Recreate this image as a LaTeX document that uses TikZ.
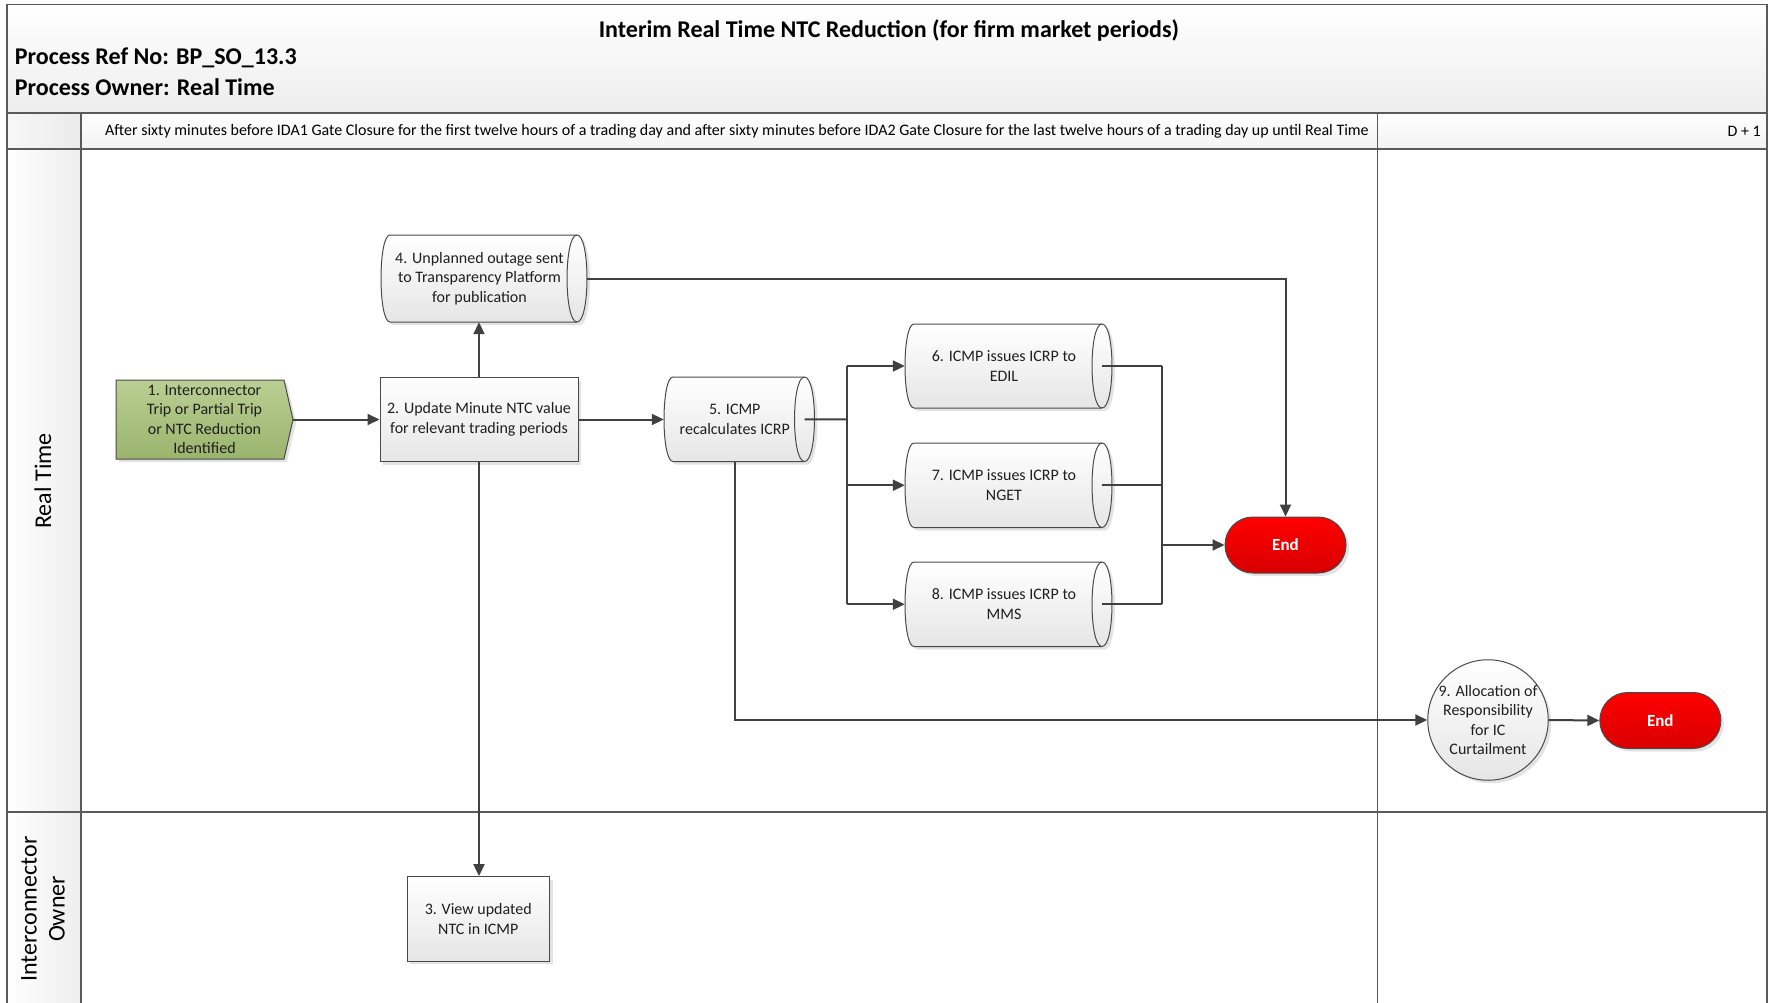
\documentclass[tikz,border=0pt]{standalone}
\usepackage{fontspec}
\setmainfont{Carlito}
\usetikzlibrary{arrows.meta,shadows,calc}
\definecolor{lncol}{HTML}{404040}
\definecolor{shpcol}{HTML}{4A4A4A}
\definecolor{framecol}{HTML}{5A5A5A}
\definecolor{greentop}{HTML}{B9CF94}
\definecolor{greenbot}{HTML}{9AB46C}
\definecolor{endtop}{HTML}{FF0000}
\definecolor{endbot}{HTML}{D80000}
\tikzset{
  ln/.style={draw=lncol, line width=2pt},
  arr/.style={ln, -{Triangle[length=12pt,width=11pt]}},
  shd/.style={drop shadow={opacity=0.22, shadow xshift=3pt, shadow yshift=-3pt}},
  shp/.style={draw=shpcol, line width=1pt, top color=white, bottom color=gray!20, shd},
  txt/.style={align=center, font=\fontsize{16}{19.5}\selectfont, text=black!88, inner sep=0pt},
  boxn/.style={shp, txt, rectangle},
  endn/.style={draw=shpcol, line width=1pt, top color=endtop, bottom color=endbot, shd,
    rounded corners=27.9pt, minimum width=121pt, minimum height=56pt, inner sep=0pt,
    text=white, font=\bfseries\fontsize{17}{20}\selectfont},
  framel/.style={draw=framecol, line width=1.5pt},
  hdr/.style={font=\bfseries\fontsize{24}{28}\selectfont, inner sep=0pt},
  phs/.style={font=\fontsize{16}{19}\selectfont, inner sep=0pt},
  lane/.style={rotate=90, font=\fontsize{24}{28}\selectfont, align=center, inner sep=0pt},
}
\newcommand\cylnode[6]{%
  \path[shp] (#2,#3) -- (#4,#3) .. controls ({#4+13.3},#3) and ({#4+13.3},#5) .. (#4,#5)
     -- (#2,#5) .. controls ({#2-12},#5) and ({#2-12},#3) .. (#2,#3) -- cycle;
  \draw[draw=shpcol, line width=1pt] (#4,#3) .. controls ({#4-13.3},#3) and ({#4-13.3},#5) .. (#4,#5);
  \node[inner sep=0pt, minimum width={(#4-#2+19)*1pt}, minimum height={(#5-#3)*1pt}] (#1)
     at ({(#2+#4)/2+0.5},{(#3+#5)/2}) {};
  \node[txt] (#1t) at ({(#2+#4)/2-4},{(#3+#5)/2}) {#6};
}
\begin{document}
\begin{tikzpicture}[x=1pt,y=-1pt]
\useasboundingbox (0,0) rectangle (1769,1003);
\fill[white] (0,0) rectangle (1769,1003);
% ---- header and phase row backgrounds
\path[top color=white, bottom color=gray!14] (7,4.5) rectangle (1767,112.8);
\path[top color=white, bottom color=gray!10] (7,112.8) rectangle (1767,149);
\path[left color=gray!6, right color=gray!16] (7,112.8) rectangle (81,149);
\path[left color=white, right color=gray!14] (7,149) rectangle (81,812);
\path[left color=white, right color=gray!14] (7,812) rectangle (81,1003);
% ---- frame lines
\draw[framel] (7,1003) -- (7,4.5) -- (1767,4.5) -- (1767,1003);
\draw[framel] (7,112.8) -- (1767,112.8);
\draw[framel] (7,149) -- (1767,149);
\draw[framel] (7,812) -- (1767,812);
\draw[framel] (81,112.8) -- (81,1003);
\draw[framel] (1377.5,112.8) -- (1377.5,1003);
% ---- header texts
\node[hdr] (title) at (889,30.5)
  {Interim Real Time NTC Reduction (for firm market periods)};
\node[hdr, anchor=west] (ref) at (14.7,57.5)
  {Process Ref No: BP\_SO\_13.3};
\node[hdr, anchor=west] (own) at (14.7,87)
  {Process Owner: Real Time};
\node[phs] (phase) at (737,131)
  {After sixty minutes before IDA1 Gate Closure for the first twelve hours of a trading day and after sixty minutes before IDA2 Gate Closure for the last twelve hours of a trading day up until Real Time};
\node[phs, anchor=east] (d1) at (1761,131) {D + 1};
% ---- lane labels
\node[lane] (lane1) at (43,481) {Real Time};
\node[lane] (lane2) at (43,909) {Interconnector\\Owner};
% ---- shapes
\path[draw=shpcol, line width=1pt, top color=greentop, bottom color=greenbot, shd]
  (116,380) -- (284,380) -- (293,419.5) -- (284,459) -- (116,459) -- cycle;
\node[txt, minimum width=177pt, minimum height=79pt] (n1) at (204.5,419.5)
  {1. Interconnector\\Trip or Partial Trip\\or NTC Reduction\\Identified};
\node[boxn, minimum width=198pt, minimum height=84pt] (n2) at (479,419.5)
  {2. Update Minute NTC value\\for relevant trading periods};
\node[boxn, minimum width=142.5pt, minimum height=84.4pt] (n3) at (478.25,918.8)
  {3. View updated\\NTC in ICMP};
\cylnode{n4}{390}{235}{577}{322}{4. Unplanned outage sent\\to Transparency Platform\\for publication}
\cylnode{n5}{673}{377}{804.5}{461.5}{5. ICMP\\recalculates ICRP}
\cylnode{n6}{914}{324}{1102}{408}{6. ICMP issues ICRP to\\EDIL}
\cylnode{n7}{914}{443}{1102}{527.5}{7. ICMP issues ICRP to\\NGET}
\cylnode{n8}{914}{562}{1102}{646.5}{8. ICMP issues ICRP to\\MMS}
\node[endn] (e1) at (1285.5,545) {End};
\node[shp, txt, circle, minimum size=117pt] (n9) at (1488,720)
  {9. Allocation of\\Responsibility\\for IC\\Curtailment};
\node[endn] (e2) at (1660.3,720.5) {End};
% ---- connectors
\coordinate (br) at (847,419.5);
\coordinate (jn) at (1162,545);
\coordinate (c5) at (734.5,461.5);
\draw[arr] (n1.east) -- (n2.west);
\draw[arr] (n2.north) -- (n2.north |- n4.south);
\draw[arr] (n2.south) -- (n2.south |- n3.north);
\draw[arr] (n2.east) -- (n2.east -| n5.west);
\draw[arr] (n4.east) -| (e1.north);
\draw[ln] ($(n5.east)+(-10,0)$) -- (br);
\draw[ln] (br |- n6.west) -- (br |- n8.west);
\draw[arr] (br |- n6.west) -- (n6.west);
\draw[arr] (br |- n7.west) -- (n7.west);
\draw[arr] (br |- n8.west) -- (n8.west);
\draw[ln] ($(n6.east)+(-10,0)$) -- (jn |- n6.east);
\draw[ln] ($(n7.east)+(-10,0)$) -- (jn |- n7.east);
\draw[ln] ($(n8.east)+(-10,0)$) -- (jn |- n8.east);
\draw[ln] (jn |- n6.east) -- (jn |- n8.east);
\draw[arr] (jn |- e1.west) -- (e1.west);
\draw[arr] (c5) |- (n9.west);
\draw[arr] (n9.east) -- (e2.west);
\end{tikzpicture}
\end{document}
